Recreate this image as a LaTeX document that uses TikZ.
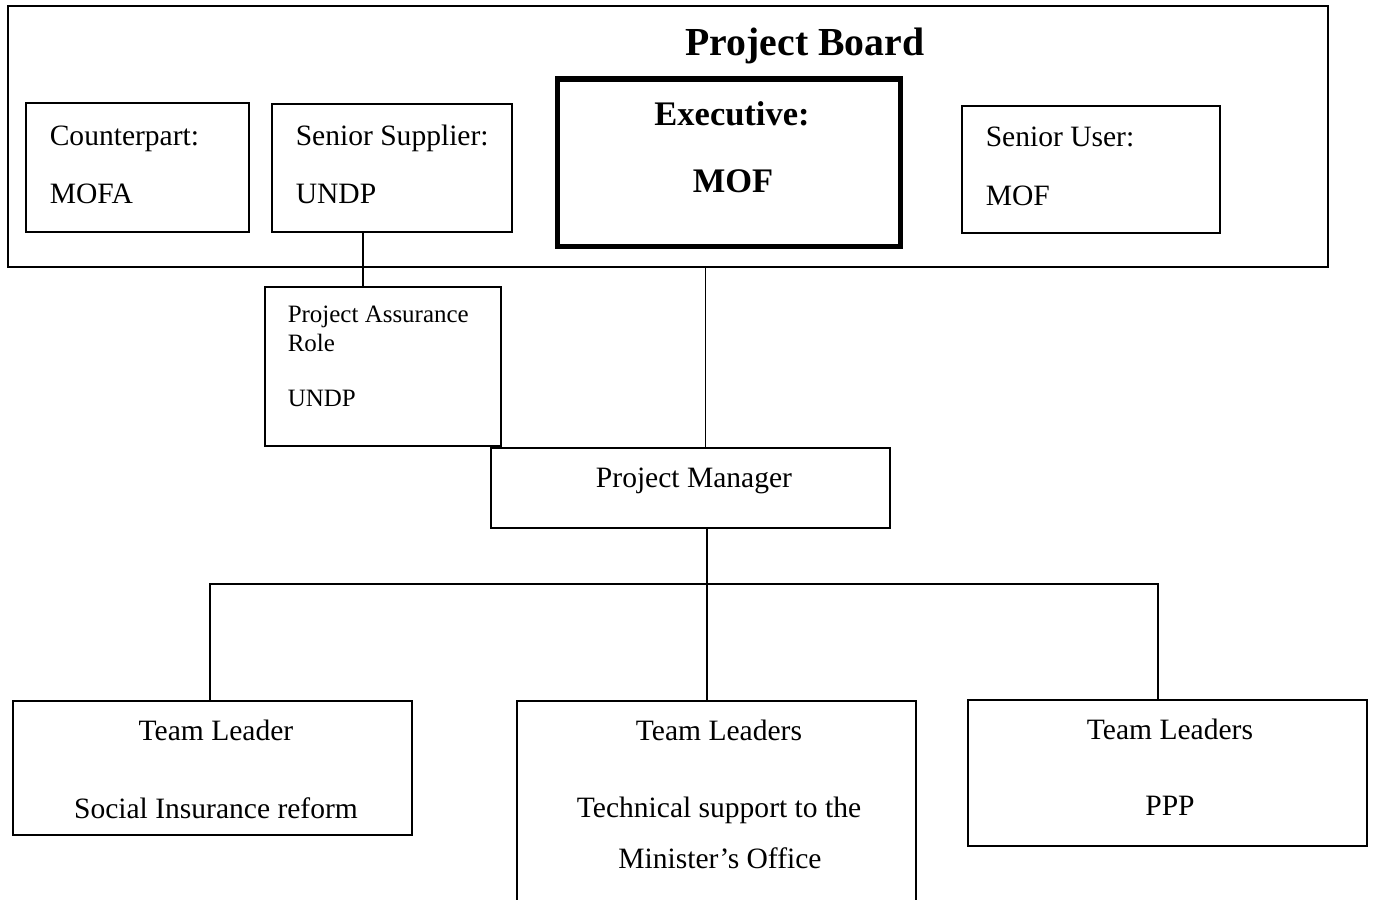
\documentclass[tikz,border=0pt]{standalone}
\usepackage{fontspec}
\setmainfont{Liberation Serif}
\usepackage{tikz}

\tikzset{
  box/.style={draw, line width=0.45pt, inner sep=0, outer sep=0, anchor=north west},
  execbox/.style={box, line width=1.5pt},
  txt/.style={inner sep=0, anchor=base west, font=\fontsize{8.4}{10}\selectfont},
  ctxt/.style={txt, anchor=base},
  small/.style={txt, font=\fontsize{7.1}{9}\selectfont},
  bold/.style={ctxt, font=\fontsize{9.8}{12}\selectfont\bfseries},
  title/.style={ctxt, font=\fontsize{11.3}{14}\selectfont\bfseries},
}

\begin{document}
\begin{tikzpicture}[x=0.01cm, y=-0.01cm, line width=0.45pt]
\useasboundingbox (0,0) rectangle (1375,899);

% the board and its members
\node[box, minimum width=13.19cm, minimum height=2.61cm] (board) at (8,6) {};
\node[title] (boardT) at (805,55) {Project Board};

\node[box, minimum width=2.23cm, minimum height=1.29cm] (cpart) at (26,103) {};
\node[txt] (cpartA) at (49,145) {Counterpart:};
\node[txt] (cpartB) at (49,203) {MOFA};

\node[box, minimum width=2.40cm, minimum height=1.28cm] (supp) at (272,104) {};
\node[txt] (suppA) at (295,145) {Senior Supplier:};
\node[txt] (suppB) at (295,203) {UNDP};

\node[execbox, minimum width=3.43cm, minimum height=1.675cm] (exec) at (557.5,79) {};
\node[bold] (execA) at (732,125) {Executive:};
\node[bold] (execB) at (733,192) {MOF};

\node[box, minimum width=2.58cm, minimum height=1.27cm] (user) at (962,106) {};
\node[txt] (userA) at (985,146) {Senior User:};
\node[txt] (userB) at (985,205) {MOF};

% assurance and management
\node[box, minimum width=2.36cm, minimum height=1.59cm] (assur) at (265,287) {};
\node[small] (assurA) at (287,322) {Project Assurance};
\node[small] (assurB) at (287,351) {Role};
\node[small] (assurC) at (287,406) {UNDP};

\node[box, minimum width=3.99cm, minimum height=0.80cm] (pm) at (491,448) {};
\node[ctxt] (pmT) at (694,487) {Project Manager};

% teams
\node[box, minimum width=3.99cm, minimum height=1.34cm] (tl1) at (13,701) {};
\node[ctxt] (tl1A) at (216,740) {Team Leader};
\node[ctxt] (tl1B) at (216,818) {Social Insurance reform};

\node[box, minimum width=3.99cm, minimum height=2.09cm] (tl2) at (517,701) {};
\node[ctxt] (tl2A) at (719,740) {Team Leaders};
\node[ctxt] (tl2B) at (719,817) {Technical support to the};
\node[ctxt] (tl2C) at (720,868) {Minister’s Office};

\node[box, minimum width=3.99cm, minimum height=1.46cm] (tl3) at (968,700) {};
\node[ctxt] (tl3A) at (1170,739) {Team Leaders};
\node[ctxt] (tl3B) at (1170,815) {PPP};

% connectors
\draw ([xshift=-0.29cm]supp.south) -- ([xshift=-0.29cm]supp.south |- assur.north);
\draw ([xshift=0.375cm]board.south) -- ([xshift=0.375cm]board.south |- pm.north);
\draw ([xshift=0.165cm]pm.south) -- ([xshift=0.165cm]pm.south |- tl2.north);
\coordinate (bus) at (707,584);
\draw ([xshift=-0.025cm]tl1.north) |- (bus) -| ([xshift=-0.095cm]tl3.north);
\end{tikzpicture}
\end{document}
